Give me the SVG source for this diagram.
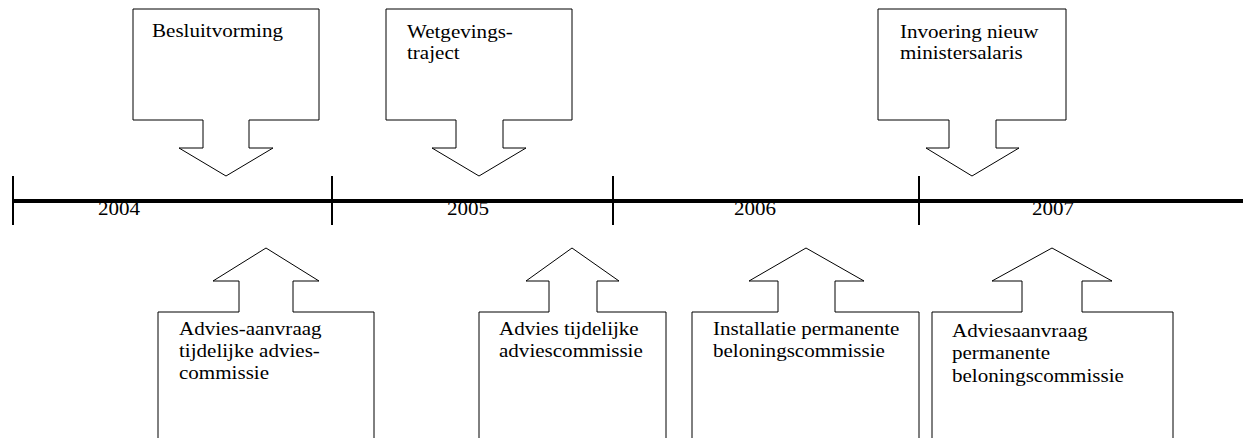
<svg xmlns="http://www.w3.org/2000/svg" width="1243" height="438" viewBox="0 0 1243 438">
<style>
.co{fill:#fff;stroke:#000;stroke-width:1}
.t{font-family:"Liberation Serif","Times New Roman",serif;font-size:18px;fill:#000}
.tick{stroke:#000;stroke-width:2}
.axis{stroke:#000;stroke-width:4}
</style>
<rect width="1243" height="438" fill="#fff"/>
<g id="timeline">
<line class="axis" x1="12" y1="201" x2="1243" y2="201"/>
<line class="tick" x1="13" y1="176" x2="13" y2="225"/>
<line class="tick" x1="332" y1="176" x2="332" y2="225"/>
<line class="tick" x1="613" y1="176" x2="613" y2="225"/>
<line class="tick" x1="919" y1="176" x2="919" y2="225"/>
<text class="t" transform="translate(98,215) scale(1.17,1)">2004</text>
<text class="t" transform="translate(447,215) scale(1.17,1)">2005</text>
<text class="t" transform="translate(734,215) scale(1.17,1)">2006</text>
<text class="t" transform="translate(1032,215) scale(1.17,1)">2007</text>
</g>
<g id="top1">
<path class="co" d="M133,9 H319 V120 H249 V148 H273 L226,176 L179,148 H203 V120 H133 Z"/>
<text class="t" transform="translate(152,37) scale(1.17,1)">Besluitvorming</text>
</g>
<g id="top2">
<path class="co" d="M386,9 H572 V120 H503 V148 H526 L479,176 L432,148 H456 V120 H386 Z"/>
<text class="t" transform="translate(407,38) scale(1.17,1)"><tspan x="0" y="0">Wetgevings-</tspan><tspan x="0" y="21.5">traject</tspan></text>
</g>
<g id="top3">
<path class="co" d="M878,9 H1066 V120 H996 V148 H1019 L972,176 L926,148 H949 V120 H878 Z"/>
<text class="t" transform="translate(900,38) scale(1.17,1)"><tspan x="0" y="0">Invoering nieuw</tspan><tspan x="0" y="21.5">ministersalaris</tspan></text>
</g>
<g id="bottom1">
<path class="co" d="M158,440 V312 H239 V281 H213 L266,248 L319,281 H293 V312 H374 V440"/>
<text class="t" transform="translate(179,335) scale(1.17,1)"><tspan x="0" y="0">Advies-aanvraag</tspan><tspan x="0" y="22">tijdelijke advies-</tspan><tspan x="0" y="44">commissie</tspan></text>
</g>
<g id="bottom2">
<path class="co" d="M479,440 V312 H549 V281 H526 L572,248 L619,281 H597 V312 H666 V440"/>
<text class="t" transform="translate(499,335) scale(1.17,1)"><tspan x="0" y="0">Advies tijdelijke</tspan><tspan x="0" y="22">adviescommissie</tspan></text>
</g>
<g id="bottom3">
<path class="co" d="M692,440 V312 H778 V281 H749 L806,248 L864,281 H835 V312 H919 V440"/>
<text class="t" transform="translate(713,335) scale(1.17,1)"><tspan x="0" y="0">Installatie permanente</tspan><tspan x="0" y="22">beloningscommissie</tspan></text>
</g>
<g id="bottom4">
<path class="co" d="M932,440 V312 H1022 V281 H992 L1052,248 L1112,281 H1082 V312 H1173 V440"/>
<text class="t" transform="translate(952,337) scale(1.17,1)"><tspan x="0" y="0">Adviesaanvraag</tspan><tspan x="0" y="22.5">permanente</tspan><tspan x="0" y="45">beloningscommissie</tspan></text>
</g>
</svg>
